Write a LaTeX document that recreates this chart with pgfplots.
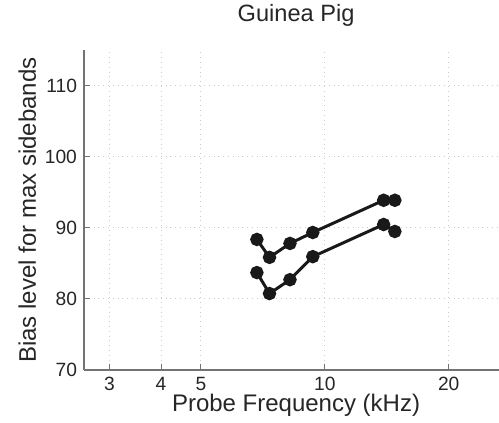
\documentclass[border=0pt]{standalone}
\usepackage{fontspec}
\setmainfont{Liberation Sans}
\usepackage{pgfplots}
\pgfplotsset{compat=1.18}
\begin{document}
\begin{tikzpicture}
\begin{axis}[
  name=main,
  scale only axis,
  width=207.5pt, height=160pt,
  xmode=log, log basis x=10,
  xmin=2.6, xmax=26.5,
  ymin=70, ymax=115,
  xtick={3,4,5,10,20},
  xticklabels={3,4,5,10,20},
  ytick={70,80,90,100,110},
  minor xtick={},
  /pgf/number format/assume math mode=true,
  axis x line*=bottom, axis y line*=left,
  axis line style={black!55, line width=0.6pt, -},
  tick align=inside,
  major tick length=3pt,
  tick style={black!55, line width=0.5pt},
  grid=major,
  major grid style={black!20, dotted, line width=0.5pt},
  ticklabel style={font=\fontsize{9.6}{11}\selectfont, text=black!85},
  label style={font=\fontsize{12}{14}\selectfont, text=black!85},
  title style={font=\fontsize{11.8}{14}\selectfont, text=black!85, at={(axis description cs:0.511,1)}, anchor=base, inner sep=0pt, yshift=8.5pt},
  title={Guinea Pig},
  xlabel={Probe Frequency (kHz)},
  ylabel={Bias level for max sidebands},
  xlabel style={at={(axis description cs:0.511,-0.075)}, anchor=north, inner sep=0pt},
  ylabel style={at={(axis description cs:-0.159,0.5)}, anchor=north, inner sep=0pt},
  clip=false,
]
\addplot[color=black!90, line width=1.5pt, mark=*, mark size=2.6pt, mark options={fill=black!90, draw=black!90}] coordinates {
  (6.84,88.36) (7.34,85.84) (8.23,87.8) (9.35,89.34) (13.9,93.87) (14.8,93.87)
};
\addplot[color=black!90, line width=1.5pt, mark=*, mark size=2.6pt, mark options={fill=black!90, draw=black!90}] coordinates {
  (6.84,83.7) (7.34,80.75) (8.23,82.7) (9.35,85.94) (13.9,90.46) (14.8,89.48)
};
\end{axis}
\pgfresetboundingbox
\path[use as bounding box] (main.south west) ++(-42pt,-26.5pt) rectangle ++(249.5pt,211.5pt);
\end{tikzpicture}
\end{document}
